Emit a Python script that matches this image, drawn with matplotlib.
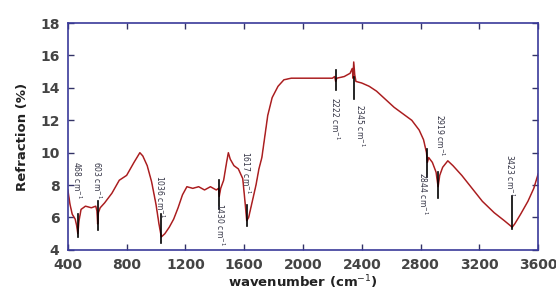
import matplotlib.pyplot as plt

# spectrum
wavenumber = [400, 415, 430, 450, 460, 468, 476, 490, 520, 560,
              590, 598, 603, 608, 620, 650, 700, 750, 800, 850,
              890, 910, 940, 970, 1000, 1020, 1036, 1060, 1090, 1120,
              1150, 1180, 1210, 1250, 1290, 1330, 1370, 1410, 1425, 1430,
              1440, 1460, 1480, 1492, 1505, 1530, 1560, 1590, 1605, 1617,
              1630, 1650, 1680, 1700, 1720, 1740, 1760, 1790, 1830, 1870,
              1920, 2000, 2100, 2200, 2215, 2222, 2230, 2280, 2320, 2335,
              2340, 2345, 2352, 2360, 2400, 2450, 2500, 2560, 2620, 2680,
              2740, 2790, 2820, 2840, 2846, 2855, 2880, 2905, 2919, 2930,
              2950, 2985, 3020, 3080, 3150, 3220, 3300, 3370, 3410, 3423,
              3440, 3480, 3530, 3570, 3600]
refl = [7.7, 6.8, 6.2, 5.9, 5.5, 5.0, 5.8, 6.5, 6.7, 6.6,
        6.7, 6.4, 5.6, 6.3, 6.6, 6.9, 7.5, 8.3, 8.6, 9.4,
        10.0, 9.8, 9.2, 8.2, 6.8, 5.6, 4.8, 5.0, 5.4, 5.9,
        6.6, 7.4, 7.9, 7.8, 7.9, 7.7, 7.9, 7.7, 7.8, 7.3,
        7.8, 8.3, 9.4, 10.0, 9.6, 9.2, 9.0, 8.4, 7.0, 5.8,
        6.0, 6.8, 8.0, 9.0, 9.7, 11.0, 12.3, 13.4, 14.1, 14.5,
        14.6, 14.6, 14.6, 14.6, 14.7, 14.4, 14.6, 14.7, 14.9, 15.2,
        14.6, 15.6, 14.8, 14.4, 14.3, 14.1, 13.8, 13.3, 12.8, 12.4,
        12.0, 11.4, 10.8, 10.0, 9.4, 9.7, 9.4, 8.8, 7.9, 8.6,
        9.1, 9.5, 9.2, 8.6, 7.8, 7.0, 6.3, 5.8, 5.5, 5.4,
        5.6, 6.2, 7.0, 7.8, 8.7]

# marked peaks and their black marker segments
peaks = [468, 603, 1036, 1430, 1617, 2222, 2345, 2844, 2919, 3423]
mark_top = [6.2, 7.0, 6.2, 8.3, 6.8, 15.1, 14.7, 10.2, 8.8, 7.3]
mark_bottom = [4.8, 5.2, 4.4, 6.5, 5.5, 13.9, 13.3, 8.5, 7.2, 5.3]

# label placement (x shift, y centre)
label_dx = [-7, -6, -10, 5, -5, -4, 43, -27, 13, -14]
label_y = [8.3, 8.3, 7.3, 5.6, 8.8, 12.1, 11.7, 7.5, 11.1, 8.6]

fig = plt.figure(figsize=(5.56, 3.0), dpi=100)
ax = fig.add_axes([0.122, 0.167, 0.846, 0.756])

ax.plot(wavenumber, refl, color='#c0282a', lw=1.1)
ax.plot(wavenumber, refl, color='#5a1010', lw=0.3, alpha=0.6)

for p, top, bot, dx, ly in zip(peaks, mark_top, mark_bottom, label_dx, label_y):
    ax.plot([p, p], [bot, top], color='black', lw=1.2)
    ax.text(p + dx, ly, '%d cm$^{-1}$' % p, rotation=-90, ha='center', va='center',
            fontsize=5.5, color='#333344')

ax.set_xlim(400, 3600)
ax.set_ylim(4, 18)
ax.set_xticks([400, 800, 1200, 1600, 2000, 2400, 2800, 3200, 3600])
ax.set_yticks([4, 6, 8, 10, 12, 14, 16, 18])
ax.tick_params(direction='in', top=True, right=True, length=4, width=1,
               color='#333366', labelsize=10, labelcolor='#444444', pad=6)
for lab in ax.get_xticklabels() + ax.get_yticklabels():
    lab.set_fontweight('bold')
for s in ax.spines.values():
    s.set_color('#3a3a9a')
    s.set_linewidth(1.2)

ax.set_xlabel('wavenumber (cm$^{-1}$)', fontsize=9.5, fontweight='bold', color='#222222', labelpad=1)
ax.set_ylabel('Refraction (%)', fontsize=9.5, fontweight='bold', color='#222222', labelpad=8)

fig.savefig('out.png', dpi=100)
